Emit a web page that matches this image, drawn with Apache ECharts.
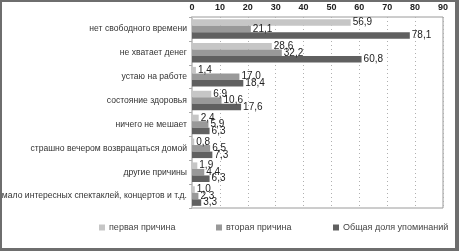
<!DOCTYPE html>
<html>
<head>
<meta charset="utf-8">
<script src="https://cdn.jsdelivr.net/npm/echarts@6/dist/echarts.min.js"></script>
<style>
html, body { margin: 0; padding: 0; background: #fff; }
#chart {
    width: 459px; height: 251px; box-sizing: border-box;
    border-style: solid; border-color: #6e6e6e;
    border-width: 2px 4px 3px 2px;
}
</style>
</head>
<body>
<div id="chart"></div>
<script>
var categories = [
    'нет свободного времени',
    'не хватает денег',
    'устаю на работе',
    'состояние здоровья',
    'ничего не мешает',
    'страшно вечером возвращаться домой',
    'другие причины',
    'мало интересных спектаклей, концертов и т.д.'
];
var firstReason = [56.9, 28.6, 1.4, 6.9, 2.4, 0.8, 1.9, 1.0];
var secondReason = [21.1, 32.2, 17.0, 10.6, 5.9, 6.5, 4.4, 2.3];
var totalShare = [78.1, 60.8, 18.4, 17.6, 6.3, 7.3, 6.3, 3.3];
var seriesNames = ['первая причина', 'вторая причина', 'Общая доля упоминаний'];
var colors = ['#c6c6c6', '#999999', '#606060'];
var legendLeft = [92, 209, 326];

var dom = document.getElementById('chart');
var myChart = echarts.init(dom);

function makeSeries(name, data) {
    return {
        name: name,
        type: 'bar',
        data: data,
        barGap: '0%',
        barCategoryGap: '18%',
        label: {
            show: true,
            position: 'right',
            distance: 2,
            fontFamily: 'Liberation Sans, Arial, sans-serif',
            fontSize: 10,
            color: '#222',
            formatter: function (p) {
                return p.value.toFixed(1).replace('.', ',');
            }
        }
    };
}

// one legend per item so each can sit where the original puts it
var legends = seriesNames.map(function (name, i) {
    return {
        data: [name],
        bottom: 11,
        left: legendLeft[i],
        itemWidth: 6,
        itemHeight: 6,
        itemGap: 4,
        icon: 'rect',
        textStyle: { fontSize: 9, color: '#444', padding: [0, 0, 0, -1] }
    };
});

var option = {
    animation: false,
    color: colors,
    textStyle: { fontFamily: 'Liberation Sans, Arial, sans-serif' },
    grid: {
        left: 190,
        right: 12,
        top: 15,
        bottom: 40,
        outerBoundsMode: 'none',
        containLabel: false,
        show: true,
        borderColor: '#9a9a9a',
        borderWidth: 1
    },
    legend: legends,
    xAxis: {
        type: 'value',
        position: 'top',
        min: 0,
        max: 90,
        interval: 10,
        axisLine: { show: false },
        axisTick: { show: false },
        axisLabel: { fontSize: 9, color: '#222', fontWeight: 'bold', margin: 5 },
        splitLine: {
            show: true,
            lineStyle: { color: '#b0b0b0', type: [1, 3] }
        }
    },
    yAxis: {
        type: 'category',
        data: categories,
        inverse: true,
        axisLine: { show: true, lineStyle: { color: '#c8c8c8', width: 2 } },
        axisTick: { show: true, length: 3, lineStyle: { color: '#aaa' } },
        axisLabel: { fontSize: 8.6, color: '#333', margin: 5 }
    },
    series: [
        makeSeries(seriesNames[0], firstReason),
        makeSeries(seriesNames[1], secondReason),
        makeSeries(seriesNames[2], totalShare)
    ]
};
myChart.setOption(option);
</script>
</body>
</html>
